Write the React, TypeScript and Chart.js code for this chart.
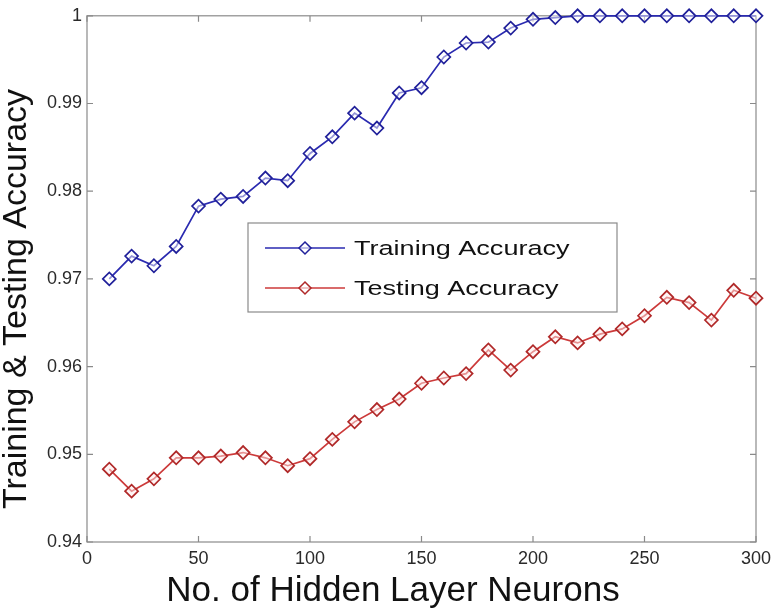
import React, { useEffect, useRef } from "react";
import { Chart, registerables } from "chart.js";

Chart.register(...registerables);

const neurons = [10, 20, 30, 40, 50, 60, 70, 80, 90, 100, 110, 120, 130, 140, 150, 160, 170, 180, 190, 200, 210, 220, 230, 240, 250, 260, 270, 280, 290, 300];

const trainingAccuracy = [0.9700, 0.9726, 0.9715, 0.9737, 0.9783, 0.9791, 0.9794, 0.9815, 0.9812, 0.9843, 0.9862, 0.9889, 0.9872, 0.9912, 0.9918, 0.9953, 0.9969, 0.9970, 0.9986, 0.9996, 0.9998, 1.0, 1.0, 1.0, 1.0, 1.0, 1.0, 1.0, 1.0, 1.0];

const testingAccuracy = [0.9483, 0.9458, 0.9472, 0.9496, 0.9496, 0.9498, 0.9502, 0.9496, 0.9487, 0.9495, 0.9517, 0.9537, 0.9551, 0.9563, 0.9581, 0.9587, 0.9592, 0.9619, 0.9596, 0.9617, 0.9634, 0.9627, 0.9637, 0.9643, 0.9658, 0.9679, 0.9673, 0.9653, 0.9687, 0.9678];

const xTickValues = [0, 50, 100, 150, 200, 250, 300];
const yTickValues = [0.94, 0.95, 0.96, 0.97, 0.98, 0.99, 1.0];
const yTickLabels = ["0.94", "0.95", "0.96", "0.97", "0.98", "0.99", "1"];

const seriesNames = ["Training Accuracy", "Testing Accuracy"];
const xTitle = "No. of Hidden Layer Neurons";
const yTitle = "Training & Testing Accuracy";

const BLUE = "#2a2ab0";
const BLUE_EDGE = "#20209a";
const RED = "#cc3a3a";
const RED_EDGE = "#b02828";
const FONT = "'Liberation Sans', Arial, sans-serif";

const boxPlugin = {
  id: "matlabBox",
  beforeDatasetsDraw(chart: any) {
    const { ctx, chartArea } = chart;
    const { left, right, top, bottom } = chartArea;
    ctx.save();
    ctx.strokeStyle = "#8a8a8a";
    ctx.lineWidth = 1.2;
    ctx.strokeRect(left, top, right - left, bottom - top);
    const tl = 6;
    const xs = chart.scales.x;
    const ys = chart.scales.y;
    ctx.beginPath();
    xTickValues.forEach((v) => {
      const px = xs.getPixelForValue(v);
      ctx.moveTo(px, bottom);
      ctx.lineTo(px, bottom - tl);
      ctx.moveTo(px, top);
      ctx.lineTo(px, top + tl);
    });
    yTickValues.forEach((v) => {
      const py = ys.getPixelForValue(v);
      ctx.moveTo(left, py);
      ctx.lineTo(left + tl, py);
      ctx.moveTo(right, py);
      ctx.lineTo(right - tl, py);
    });
    ctx.stroke();
    ctx.restore();
  },
};

const axisTitlePlugin = {
  id: "axisTitles",
  afterDraw(chart: any) {
    const { ctx } = chart;
    ctx.save();
    ctx.fillStyle = "#111111";
    ctx.textAlign = "center";
    ctx.textBaseline = "alphabetic";
    ctx.font = `35px ${FONT}`;
    ctx.fillText(xTitle, 393, 601);
    ctx.translate(26, 299);
    ctx.rotate(-Math.PI / 2);
    ctx.font = `34px ${FONT}`;
    ctx.fillText(yTitle, 0, 0);
    ctx.restore();
  },
};

const legendPlugin = {
  id: "insideLegend",
  afterDraw(chart: any) {
    const { ctx } = chart;
    const bx = 248, by = 223, bw = 369, bh = 89;
    ctx.save();
    ctx.fillStyle = "#ffffff";
    ctx.fillRect(bx, by, bw, bh);
    ctx.strokeStyle = "#8a8a8a";
    ctx.lineWidth = 1.2;
    ctx.strokeRect(bx, by, bw, bh);
    const rows = [by + 25, by + 65];
    chart.data.datasets.forEach((ds: any, i: number) => {
      const y = rows[i];
      ctx.strokeStyle = ds.borderColor;
      ctx.lineWidth = 1.5;
      ctx.beginPath();
      ctx.moveTo(bx + 17, y);
      ctx.lineTo(bx + 97, y);
      ctx.stroke();
      const cx = bx + 57;
      const r = 6;
      ctx.beginPath();
      ctx.moveTo(cx, y - r);
      ctx.lineTo(cx + r, y);
      ctx.lineTo(cx, y + r);
      ctx.lineTo(cx - r, y);
      ctx.closePath();
      ctx.fillStyle = "rgba(255,255,255,0.6)";
      ctx.fill();
      ctx.strokeStyle = ds.pointBorderColor;
      ctx.lineWidth = 1.5;
      ctx.stroke();
      ctx.save();
      ctx.translate(bx + 106, y);
      ctx.scale(1.32, 1);
      ctx.fillStyle = "#111111";
      ctx.font = `20.5px ${FONT}`;
      ctx.textBaseline = "middle";
      ctx.textAlign = "left";
      ctx.fillText(ds.label, 0, 1);
      ctx.restore();
    });
    ctx.restore();
  },
};

export default function App() {
  const canvasRef = useRef<HTMLCanvasElement | null>(null);

  useEffect(() => {
    document.body.style.margin = "0";
    const canvas = canvasRef.current;
    if (!canvas) return;
    const chart = new Chart(canvas, {
      type: "line",
      data: {
        datasets: [
          {
            label: seriesNames[0],
            data: neurons.map((n, i) => ({ x: n, y: trainingAccuracy[i] })),
            borderColor: BLUE,
            borderWidth: 1.7,
            pointStyle: "rectRot",
            pointRadius: 6.5,
            pointBorderWidth: 1.7,
            pointBorderColor: BLUE_EDGE,
            pointBackgroundColor: "rgba(255,255,255,0.5)",
            tension: 0,
            clip: false as any,
          },
          {
            label: seriesNames[1],
            data: neurons.map((n, i) => ({ x: n, y: testingAccuracy[i] })),
            borderColor: RED,
            borderWidth: 1.7,
            pointStyle: "rectRot",
            pointRadius: 6.5,
            pointBorderWidth: 1.7,
            pointBorderColor: RED_EDGE,
            pointBackgroundColor: "rgba(255,235,235,0.5)",
            tension: 0,
            clip: false as any,
          },
        ],
      },
      options: {
        responsive: false,
        animation: false,
        events: [],
        layout: { padding: { top: 11, right: 24, left: 0, bottom: 0 } },
        plugins: {
          legend: { display: false },
          tooltip: { enabled: false },
        },
        scales: {
          x: {
            type: "linear",
            min: 0,
            max: 300,
            afterBuildTicks: (scale: any) => {
              scale.ticks = xTickValues.map((v) => ({ value: v }));
            },
            afterFit: (scale: any) => {
              scale.height = 70;
            },
            grid: { display: false, drawTicks: false },
            border: { display: false },
            ticks: {
              padding: 6,
              maxRotation: 0,
              autoSkip: false,
              color: "#2a2a2a",
              font: { family: FONT, size: 18 },
              callback: (v: any) => String(v),
            },
            title: { display: false },
          },
          y: {
            type: "linear",
            min: 0.94,
            max: 1.0,
            afterBuildTicks: (scale: any) => {
              scale.ticks = yTickValues.map((v) => ({ value: v }));
            },
            afterFit: (scale: any) => {
              scale.width = 87;
            },
            grid: { display: false, drawTicks: false },
            border: { display: false },
            ticks: {
              padding: 5,
              autoSkip: false,
              color: "#2a2a2a",
              font: { family: FONT, size: 18 },
              callback: (v: any) => {
                const idx = yTickValues.findIndex((t) => Math.abs(t - v) < 1e-9);
                return idx >= 0 ? yTickLabels[idx] : "";
              },
            },
            title: { display: false },
          },
        },
      },
      plugins: [boxPlugin, axisTitlePlugin, legendPlugin],
    } as any);
    return () => chart.destroy();
  }, []);

  return (
    <div style={{ width: 780, height: 612 }}>
      <canvas ref={canvasRef} width={780} height={612} style={{ display: "block" }} />
    </div>
  );
}
